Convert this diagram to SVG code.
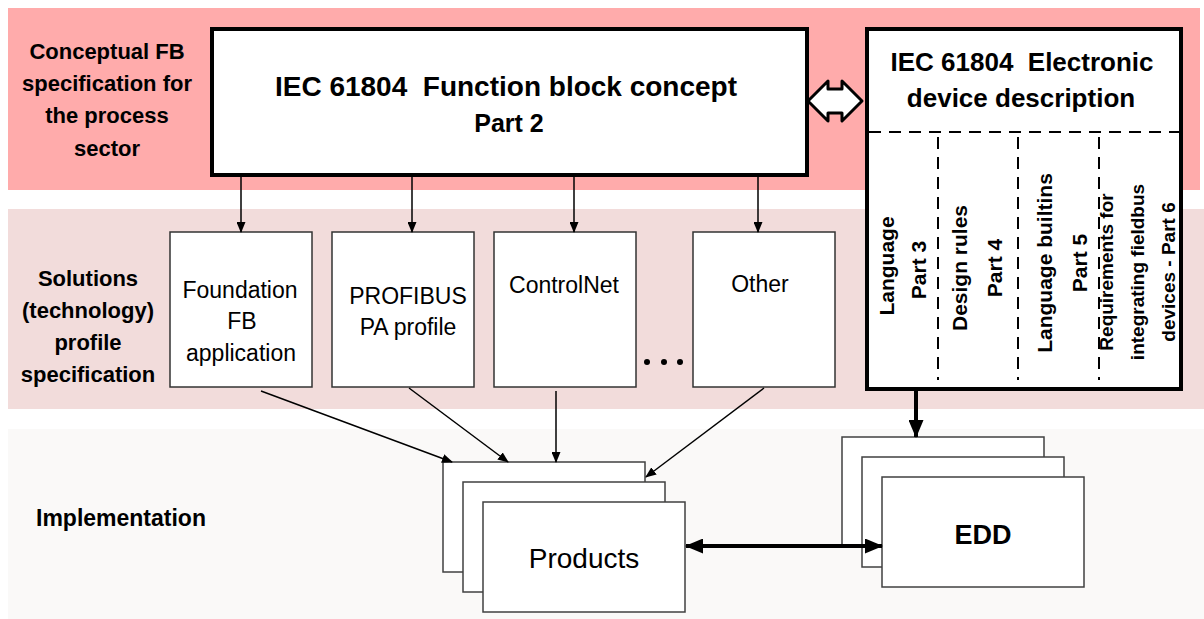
<svg xmlns="http://www.w3.org/2000/svg" width="1204" height="619" viewBox="0 0 1204 619">
<style>
text{font-family:"Liberation Sans",Arial,sans-serif;fill:#000}
.b{font-weight:bold}
.lbl{font-size:22px;font-weight:bold;text-anchor:middle}
.sol{font-size:23px;text-anchor:middle}
.box{fill:#fff;stroke:#333;stroke-width:1.5}
.stk{fill:#fff;stroke:#404040;stroke-width:1.5}
.thick{fill:#fff;stroke:#000;stroke-width:4}
.dash{stroke:#000;stroke-width:2;stroke-dasharray:12 8;fill:none}
.ln{stroke:#000;stroke-width:1.5;fill:none}
.vt{font-size:21px;font-weight:bold;text-anchor:middle}
.vt4{font-size:19px;font-weight:bold;text-anchor:middle}
</style>
<defs>
<marker id="ah" markerUnits="userSpaceOnUse" markerWidth="11" markerHeight="9" refX="10" refY="4.5" orient="auto">
<path d="M0,0 L11,4.5 L0,9 z" fill="#000"/>
</marker>
<marker id="ahb" markerUnits="userSpaceOnUse" markerWidth="18" markerHeight="15" refX="17" refY="7.5" orient="auto">
<path d="M0,0 L18,7.5 L0,15 z" fill="#000"/>
</marker>
<marker id="ahbs" markerUnits="userSpaceOnUse" markerWidth="18" markerHeight="15" refX="1" refY="7.5" orient="auto">
<path d="M18,0 L0,7.5 L18,15 z" fill="#000"/>
</marker>
</defs>

<g id="bands">
<rect x="8" y="8" width="1192" height="182" fill="#FFABAB"/>
<rect x="8" y="209" width="1196" height="200" fill="#F2DCDB"/>
<rect x="8" y="429" width="1196" height="190" fill="#FAF9F8"/>
</g>

<g id="row-labels">
<text class="lbl" x="107"><tspan x="107" y="59">Conceptual FB</tspan><tspan x="107" y="91">specification for</tspan><tspan x="107" y="123">the process</tspan><tspan x="107" y="156">sector</tspan></text>
<text class="lbl" x="88"><tspan x="88" y="286">Solutions</tspan><tspan x="88" y="318">(technology)</tspan><tspan x="88" y="350">profile</tspan><tspan x="88" y="382">specification</tspan></text>
<text class="b" x="36" y="526" font-size="23">Implementation</text>
</g>

<g id="fb-concept">
<rect class="thick" x="212" y="29" width="595" height="146"/>
<text class="b" x="506" y="96" font-size="28" text-anchor="middle">IEC 61804&#160; Function block concept</text>
<text class="b" x="509" y="132" font-size="25" text-anchor="middle">Part 2</text>
</g>

<g id="edd-spec">
<rect class="thick" x="867" y="29" width="314" height="360"/>
<text class="b" x="1022" y="71" font-size="26" text-anchor="middle">IEC 61804&#160; Electronic</text>
<text class="b" x="1021" y="107" font-size="26" text-anchor="middle">device description</text>
<line class="dash" x1="869" y1="132" x2="1179" y2="132"/>
<line class="dash" x1="938" y1="137" x2="938" y2="380"/>
<line class="dash" x1="1018" y1="137" x2="1018" y2="380"/>
<line class="dash" x1="1099" y1="137" x2="1099" y2="380"/>
<text class="vt" transform="translate(894,266) rotate(-90)">Language</text>
<text class="vt" transform="translate(926,270) rotate(-90)">Part 3</text>
<text class="vt" transform="translate(967,268) rotate(-90)">Design rules</text>
<text class="vt" transform="translate(1002,268) rotate(-90)">Part 4</text>
<text class="vt" transform="translate(1052,263) rotate(-90)">Language builtins</text>
<text class="vt" transform="translate(1087,263) rotate(-90)">Part 5</text>
<text class="vt4" transform="translate(1113,272) rotate(-90)">Requirements for</text>
<text class="vt4" transform="translate(1144,272) rotate(-90)">integrating fieldbus</text>
<text class="vt4" transform="translate(1175,272) rotate(-90)">devices - Part 6</text>
</g>

<g id="foundation">
<rect class="box" x="170" y="232" width="142" height="155"/>
<text class="sol"><tspan x="240" y="298">Foundation</tspan><tspan x="242" y="329">FB</tspan><tspan x="241" y="361">application</tspan></text>
</g>
<g id="profibus">
<rect class="box" x="332" y="232" width="142" height="155"/>
<text class="sol"><tspan x="408" y="304">PROFIBUS</tspan><tspan x="408" y="335">PA profile</tspan></text>
</g>
<g id="controlnet">
<rect class="box" x="494" y="232" width="142" height="155"/>
<text class="sol" x="564" y="293">ControlNet</text>
</g>
<g id="ellipsis">
<circle cx="647" cy="362" r="3" fill="#000"/>
<circle cx="664" cy="362" r="3" fill="#000"/>
<circle cx="680" cy="362" r="3" fill="#000"/>
</g>
<g id="other">
<rect class="box" x="693" y="232" width="142" height="155"/>
<text class="sol" x="760" y="292">Other</text>
</g>

<g id="products">
<rect class="stk" x="443" y="462" width="202" height="110"/>
<rect class="stk" x="463" y="482" width="202" height="110"/>
<rect class="stk" x="483" y="502" width="202" height="110"/>
<text x="584" y="568" font-size="28" text-anchor="middle">Products</text>
</g>

<g id="edd">
<rect class="stk" x="842" y="437" width="202" height="108"/>
<rect class="stk" x="862" y="457" width="202" height="110"/>
<rect class="stk" x="882" y="477" width="202" height="110"/>
<text class="b" x="983" y="544" font-size="27" text-anchor="middle">EDD</text>
</g>

<g id="connectors">
<line class="ln" x1="241" y1="177" x2="241" y2="232" marker-end="url(#ah)"/>
<line class="ln" x1="412" y1="177" x2="412" y2="232" marker-end="url(#ah)"/>
<line class="ln" x1="574" y1="177" x2="574" y2="232" marker-end="url(#ah)"/>
<line class="ln" x1="758" y1="177" x2="758" y2="232" marker-end="url(#ah)"/>
<line class="ln" x1="261" y1="391" x2="452" y2="462" marker-end="url(#ah)"/>
<line class="ln" x1="409" y1="388" x2="508" y2="462" marker-end="url(#ah)"/>
<line class="ln" x1="556" y1="391" x2="556" y2="462" marker-end="url(#ah)"/>
<line class="ln" x1="764" y1="388" x2="646" y2="477" marker-end="url(#ah)"/>
<line x1="916" y1="391" x2="916" y2="437" stroke="#000" stroke-width="4" marker-end="url(#ahb)"/>
<line x1="686" y1="546" x2="882" y2="546" stroke="#000" stroke-width="4" marker-start="url(#ahbs)" marker-end="url(#ahb)"/>
<polygon points="808,101 828,81 828,89 842,89 842,81 862,101 842,121 842,113 828,113 828,121" fill="#fff" stroke="#000" stroke-width="3" stroke-linejoin="round"/>
</g>
</svg>
